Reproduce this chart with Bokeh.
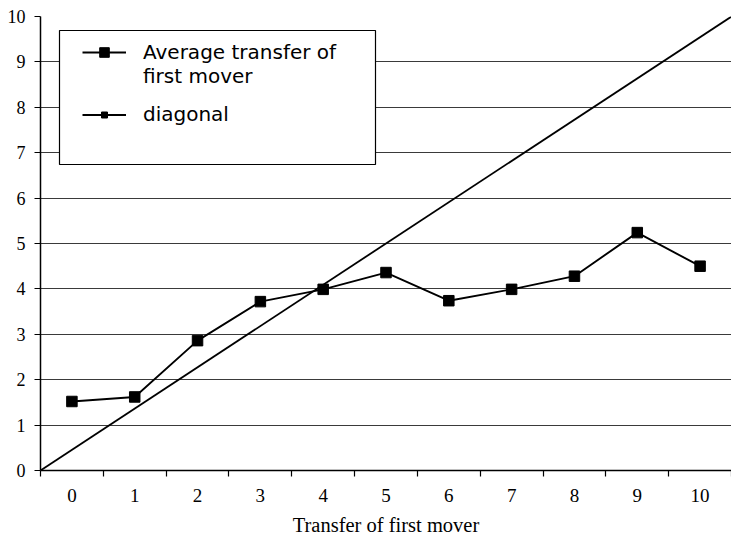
from bokeh.plotting import figure
from bokeh.models import (Range1d, FixedTicker, LinearAxis, Legend, LegendItem,
                          Grid, BoxAnnotation)
from bokeh.embed import file_html
from bokeh.resources import INLINE

# ---- data ----
categories = [0, 1, 2, 3, 4, 5, 6, 7, 8, 9, 10]
avg_transfer = [1.52, 1.62, 2.86, 3.72, 3.99, 4.36, 3.74, 3.99, 4.28, 5.24, 4.50]
diag_x = [0, 10]
diag_y = [0, 10]
y_ticks = [0, 1, 2, 3, 4, 5, 6, 7, 8, 9, 10]
x_label = "Transfer of first mover"
series_name_1 = "Average transfer of"
series_name_2 = "first mover"
diag_name = "diagonal"

SERIF = "Liberation Serif"
SANS = "DejaVu Sans"

p = figure(width=731, height=538, output_backend="svg", toolbar_location=None,
           x_range=Range1d(categories[0] - 0.5, categories[-1] + 0.5),
           y_range=Range1d(y_ticks[0], y_ticks[-1]),
           x_axis_type=None, y_axis_type=None,
           min_border_left=40, min_border_right=0, min_border_top=16,
           min_border_bottom=64)
p.outline_line_color = None
p.background_fill_color = "white"
p.border_fill_color = "white"

p.extra_x_ranges = {"diag": Range1d(diag_x[0], diag_x[-1])}

# y axis
yax = LinearAxis(ticker=FixedTicker(ticks=y_ticks, minor_ticks=[]))
yax.major_tick_out = 6
yax.major_tick_in = 0
yax.minor_tick_out = 0
yax.axis_line_color = "black"
yax.axis_line_width = 1.5
yax.major_tick_line_color = "black"
yax.major_label_text_font = SERIF
yax.major_label_text_font_size = "18px"
yax.major_label_text_color = "black"
yax.major_label_standoff = 9
p.add_layout(yax, "left")

# x axis: labels at category centres, tick marks between categories
bounds = [c - 0.5 for c in categories] + [categories[-1] + 0.5]
xax = LinearAxis(ticker=FixedTicker(ticks=categories, minor_ticks=bounds))
xax.major_tick_out = 0
xax.major_tick_in = 0
xax.minor_tick_out = 6
xax.minor_tick_in = 0
xax.minor_tick_line_color = "black"
xax.minor_tick_line_width = 1.2
xax.axis_line_color = "black"
xax.axis_line_width = 1.5
xax.major_label_text_font = SERIF
xax.major_label_text_font_size = "19px"
xax.major_label_text_color = "black"
xax.major_label_standoff = 12
xax.axis_label = x_label
xax.axis_label_text_font = SERIF
xax.axis_label_text_font_size = "20.5px"
xax.axis_label_text_font_style = "normal"
xax.axis_label_text_color = "black"
xax.axis_label_standoff = 9
p.add_layout(xax, "below")

grid = Grid(dimension=1, ticker=FixedTicker(ticks=y_ticks))
grid.grid_line_color = "#3a3a3a"
grid.grid_line_width = 1.1
p.add_layout(grid)

# diagonal
r_diag = p.line(diag_x, diag_y, x_range_name="diag", line_color="black", line_width=1.8)
# marker used only for the legend swatch (hidden on the chart)
r_diag_mk = p.scatter(diag_x, diag_y, x_range_name="diag",
                      marker="square", size=6, fill_color="black", line_color="black")
r_diag_mk.visible = False

# average transfer
r_avg_line = p.line(categories, avg_transfer, line_color="black", line_width=1.9)
r_avg_mk = p.scatter(categories, avg_transfer, marker="square", size=10.5,
                     fill_color="black", line_color="black")

r_blank = p.line(x=[], y=[], line_alpha=0)

# legend frame
box = BoxAnnotation(left=59, right=375, top=30, bottom=164,
                    left_units="canvas", right_units="canvas",
                    top_units="canvas", bottom_units="canvas",
                    fill_color="white", fill_alpha=1.0,
                    line_color="black", line_width=1.2, line_alpha=1.0)
p.add_layout(box)

def style_legend(lg, gh, lh):
    lg.padding = 0
    lg.margin = 0
    lg.spacing = 0
    lg.glyph_width = 44
    lg.glyph_height = gh
    lg.label_height = lh
    lg.label_standoff = 17
    lg.label_text_font = SANS
    lg.label_text_font_size = "20px"
    lg.label_text_color = "black"
    lg.border_line_color = None
    lg.background_fill_alpha = 0
    lg.inactive_fill_alpha = 0
    lg.click_policy = "none"

legend_a = Legend(items=[
    LegendItem(label=series_name_1, renderers=[r_avg_line, r_avg_mk]),
    LegendItem(label=series_name_2, renderers=[r_blank]),
], location=(42, 382.5))
style_legend(legend_a, 24, 24)
p.add_layout(legend_a, "center")

legend_b = Legend(items=[
    LegendItem(label=diag_name, renderers=[r_diag, r_diag_mk]),
], location=(42, 344))
style_legend(legend_b, 15, 24)
p.add_layout(legend_b, "center")

open("out.html", "w").write(file_html(p, INLINE))
